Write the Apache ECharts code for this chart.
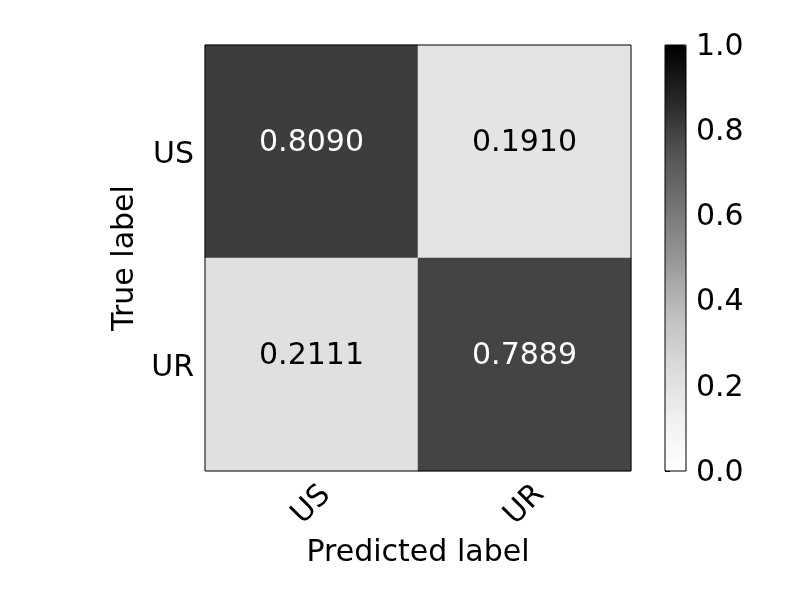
<!DOCTYPE html>
<html>
<head>
<meta charset="utf-8">
<script src="https://cdn.jsdelivr.net/npm/echarts@6/dist/echarts.min.js"></script>
<style>
  html, body { margin: 0; padding: 0; background: #fff; }
  #chart { width: 800px; height: 600px; }
</style>
</head>
<body>
<div id="chart"></div>
<script>
// confusion matrix, rows = true label, cols = predicted label
const labels = ['US', 'UR']
const matrix = [
  [0.8090, 0.1910],
  [0.2111, 0.7889]
]
const colorTicks = [0, 0.2, 0.4, 0.6, 0.8, 1.0]
// matplotlib "Greys" stops
const greys = ['#ffffff', '#f0f0f0', '#d9d9d9', '#bdbdbd', '#969696', '#737373', '#525252', '#252525', '#000000']

const font = 'DejaVu Sans'
const fs = 30

let cells = []
matrix.forEach((row, i) => {
  row.forEach((v, j) => {
    cells.push({
      value: [j, i, v],
      label: { color: v > 0.5 ? '#fff' : '#000' }
    })
  })
})

let chart = echarts.init(document.getElementById('chart'))
chart.setOption({
  animation: false,
  textStyle: { fontFamily: font },
  grid: [
    { left: 205, top: 45, width: 426, height: 426, show: true, z: 10,
      borderColor: '#000', borderWidth: 1, backgroundColor: 'transparent' },
    { left: 665, top: 45, width: 21, height: 426, show: true, z: 10,
      borderColor: '#000', borderWidth: 1, backgroundColor: 'transparent' }
  ],
  xAxis: [
    {
      type: 'category',
      data: labels,
      gridIndex: 0,
      name: 'Predicted label',
      nameLocation: 'middle',
      nameGap: 64,
      nameTextStyle: { fontSize: fs, color: '#000', fontFamily: font },
      axisLine: { show: false },
      axisTick: { alignWithLabel: true, length: 5, lineStyle: { color: '#000' } },
      axisLabel: {
        rotate: 45, fontSize: fs, color: '#000', fontFamily: font,
        margin: 34, align: 'center', verticalAlign: 'middle'
      },
      splitLine: { show: false }
    },
    { type: 'value', gridIndex: 1, show: false, min: 0, max: 1 }
  ],
  yAxis: [
    {
      type: 'category',
      data: labels,
      gridIndex: 0,
      inverse: true,
      name: 'True label',
      nameLocation: 'middle',
      nameGap: 59,
      nameTextStyle: { fontSize: fs, color: '#000', fontFamily: font },
      axisLine: { show: false },
      axisTick: { alignWithLabel: true, length: 5, lineStyle: { color: '#000' } },
      axisLabel: { fontSize: fs, color: '#000', fontFamily: font, margin: 11,
        verticalAlign: 'top', lineHeight: 8 },
      splitLine: { show: false }
    },
    {
      type: 'value',
      gridIndex: 1,
      position: 'right',
      min: 0,
      max: 1,
      interval: 0.2,
      axisLine: { show: false },
      axisTick: { show: true, length: 5, lineStyle: { color: '#000' } },
      axisLabel: {
        fontSize: fs, color: '#000', fontFamily: font, margin: 10,
        verticalAlign: 'top', lineHeight: 4,
        formatter: v => v.toFixed(1)
      },
      splitLine: { show: false }
    }
  ],
  visualMap: {
    type: 'continuous',
    min: 0,
    max: 1,
    calculable: false,
    seriesIndex: 0,
    left: 665,
    top: 45,
    padding: 0,
    itemWidth: 21,
    itemHeight: 426,
    text: null,
    showLabel: false,
    inRange: { color: greys }
  },
  series: [
    {
      type: 'heatmap',
      xAxisIndex: 0,
      yAxisIndex: 0,
      data: cells,
      label: {
        show: true,
        fontSize: fs,
        fontFamily: font,
        offset: [0, -8],
        formatter: p => p.value[2].toFixed(4)
      },
      emphasis: { disabled: true }
    }
  ]
})
</script>
</body>
</html>
